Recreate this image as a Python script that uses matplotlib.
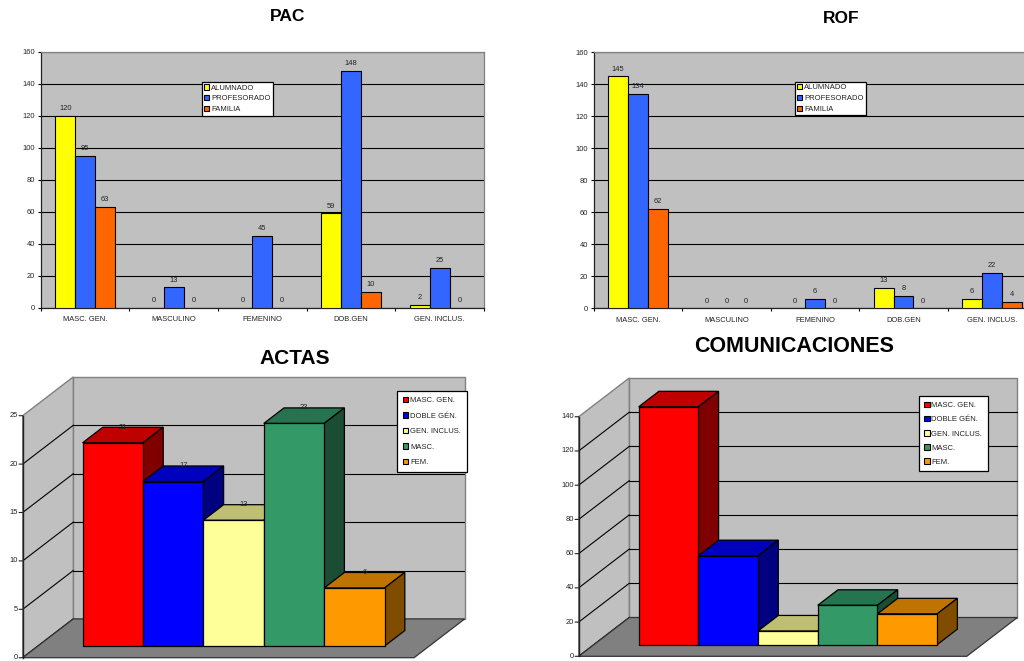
import matplotlib
matplotlib.use("Agg")
import matplotlib.pyplot as plt
from matplotlib.patches import Patch, Polygon

plt.rcParams["font.family"] = ["Liberation Sans", "DejaVu Sans"]

W, H = 1024, 661

# ── Data ─────────────────────────────────────────────────────────────────────
groups = ["MASC. GEN.", "MASCULINO", "FEMENINO", "DOB.GEN", "GEN. INCLUS."]
audience = ["ALUMNADO", "PROFESORADO", "FAMILIA"]

pac_alumnado = [120, 0, 0, 59, 2]
pac_profesorado = [95, 13, 45, 148, 25]
pac_familia = [63, 0, 0, 10, 0]

rof_alumnado = [145, 0, 0, 13, 6]
rof_profesorado = [134, 0, 6, 8, 22]
rof_familia = [62, 0, 0, 0, 4]

forms = ["MASC. GEN.", "DOBLE GÉN.", "GEN. INCLUS.", "MASC.", "FEM."]
actas_values = [21, 17, 13, 23, 6]
comunicaciones_values = [139, 52, 8, 23, 18]

flat_ticks = [0, 20, 40, 60, 80, 100, 120, 140, 160]
actas_ticks = [0, 5, 10, 15, 20, 25]
comunicaciones_ticks = [0, 20, 40, 60, 80, 100, 120, 140]

# ── Colors ───────────────────────────────────────────────────────────────────
C_WALL = "#c0c0c0"
C_FLOOR = "#808080"
C_TEXT = "#222222"
FLAT_COLORS = ["#ffff00", "#3366ff", "#ff6600"]
# front, top, side
BOX_COLORS = [
    ("#ff0000", "#bf0000", "#800000"),
    ("#0000ff", "#0000bf", "#000080"),
    ("#ffff99", "#bfbf73", "#80804d"),
    ("#339966", "#267350", "#1a4d33"),
    ("#ff9900", "#bf7300", "#804d00"),
]
TICK_SIZE = 5.4

fig = plt.figure(figsize=(W / 100, H / 100), dpi=100, facecolor="white")


def rect(left, top, right, bottom):
    return [left / W, 1 - bottom / H, (right - left) / W, (bottom - top) / H]


def title(text, x, y, size):
    fig.text(x / W, 1 - y / H, text, ha="center", va="center",
             fontsize=size, fontweight="bold", color="black")


def legend(ax, handles, labels, x, y, **kw):
    leg = ax.legend(handles, labels, loc="upper left",
                    bbox_to_anchor=(x / W, 1 - y / H),
                    bbox_transform=fig.transFigure, fontsize=5.5,
                    fancybox=False, framealpha=1, edgecolor="black",
                    borderaxespad=0, handlelength=0.7, handleheight=0.7,
                    labelcolor=C_TEXT, **kw)
    leg.get_frame().set_linewidth(0.9)
    leg.set_zorder(20)


# ── Flat clustered bars (PAC, ROF) ───────────────────────────────────────────
def flat_chart(box, series, legend_xy):
    ax = fig.add_axes(rect(*box), facecolor=C_WALL)
    width = 0.2236
    for k, values in enumerate(series):
        for i, val in enumerate(values):
            x = i + 0.5 + (k - 1) * width
            if val > 0:
                ax.bar(x, val, width, color=FLAT_COLORS[k], edgecolor="black",
                       linewidth=0.8, zorder=3)
            ax.annotate(str(val), (x, val), xytext=(0, 2.6),
                        textcoords="offset points", ha="center", va="bottom",
                        fontsize=TICK_SIZE, color=C_TEXT, zorder=4)
    ax.set_xlim(0, len(groups))
    ax.set_ylim(0, 160)
    ax.set_yticks(flat_ticks)
    ax.yaxis.grid(True, color="black", linewidth=0.8, zorder=0)
    ax.set_axisbelow(True)
    ax.set_xticks(range(len(groups) + 1))
    ax.set_xticklabels([])
    ax.set_xticks([i + 0.5 for i in range(len(groups))], groups, minor=True)
    ax.tick_params(axis="x", which="minor", length=0, pad=6,
                   labelsize=TICK_SIZE, labelcolor=C_TEXT)
    ax.tick_params(axis="x", which="major", length=2.5, width=0.8)
    ax.tick_params(axis="y", length=2.5, width=0.8, pad=1.5,
                   labelsize=TICK_SIZE, labelcolor=C_TEXT)
    for side in ["top", "right"]:
        ax.spines[side].set_color(C_FLOOR)
        ax.spines[side].set_linewidth(0.9)
    for side in ["left", "bottom"]:
        ax.spines[side].set_color("#222222")
        ax.spines[side].set_linewidth(0.9)
    handles = [Patch(facecolor=c, edgecolor="black", linewidth=0.8)
               for c in FLAT_COLORS]
    legend(ax, handles, audience, *legend_xy, borderpad=0.3, labelspacing=0.45,
           handletextpad=0.25)


# ── Fake 3D column charts (ACTAS, COMUNICACIONES) ────────────────────────────
def box_chart(box, values, ticks, bar_px, unit_px, floor_units, legend_xy,
              labels, legend_space):
    left, top, right, bottom = box
    ax = fig.add_axes(rect(*box))
    ax.set_xlim(0, (right - left) / bar_px)
    ax.set_ylim(0, (bottom - top) / unit_px)
    ax.axis("off")

    deep_x = 50.6 / bar_px
    deep_y = 38.8 / unit_px

    def proj(u, v, d):
        return (u + d * deep_x, v + d * deep_y)

    def poly(points, color, edge, lw, z):
        ax.add_patch(Polygon(points, closed=True, facecolor=color, edgecolor=edge,
                             linewidth=lw, zorder=z, clip_on=False))

    vmax = ticks[-1]
    # walls and floor
    poly([proj(0, 0, 1), proj(floor_units, 0, 1), proj(floor_units, vmax, 1),
          proj(0, vmax, 1)], C_WALL, C_FLOOR, 1.0, 1)
    poly([proj(0, 0, 0), proj(0, 0, 1), proj(0, vmax, 1), proj(0, vmax, 0)],
         C_WALL, C_FLOOR, 1.0, 1)
    for t in ticks[1:-1]:
        ax.plot(*zip(proj(0, t, 1), proj(floor_units, t, 1)), color="black",
                linewidth=0.8, zorder=2)
    for t in ticks[:-1]:
        ax.plot(*zip(proj(0, t, 0), proj(0, t, 1)), color="black",
                linewidth=0.8, zorder=2)
    poly([proj(0, 0, 0), proj(floor_units, 0, 0), proj(floor_units, 0, 1),
          proj(0, 0, 1)], C_FLOOR, "#333333", 0.9, 3)

    # value axis on the front left edge
    ax.plot(*zip(proj(0, 0, 0), proj(0, vmax, 0)), color="#222222",
            linewidth=1.0, zorder=4, clip_on=False)
    for t in ticks:
        ax.annotate("", (0, t), xytext=(-2.6, 0), textcoords="offset points",
                    annotation_clip=False,
                    arrowprops=dict(arrowstyle="-", color="#222222",
                                    linewidth=0.8, shrinkA=0, shrinkB=0))
        ax.annotate(str(t), (0, t), xytext=(-3.2, 0), textcoords="offset points",
                    ha="right", va="center", fontsize=TICK_SIZE, color=C_TEXT,
                    annotation_clip=False)

    # columns, left to right so each front covers the side before it
    pad = (floor_units - len(values)) / 2
    d0, d1 = 0.3, 0.7
    for i, val in enumerate(values):
        u0, u1 = pad + i, pad + i + 1
        front, top_c, side = BOX_COLORS[i]
        z = 5 + i
        poly([proj(u0, val, d0), proj(u1, val, d0), proj(u1, val, d1),
              proj(u0, val, d1)], top_c, "black", 0.9, z)
        poly([proj(u1, 0, d0), proj(u1, 0, d1), proj(u1, val, d1),
              proj(u1, val, d0)], side, "black", 0.9, z)
        poly([proj(u0, 0, d0), proj(u1, 0, d0), proj(u1, val, d0),
              proj(u0, val, d0)], front, "black", 0.9, z)
        if labels:
            x, _ = proj((u0 + u1) / 2, val, 0.5)
            _, y = proj(u0, val, d1)
            ax.text(x, y, str(val), ha="center", va="center",
                    fontsize=TICK_SIZE, color=C_TEXT, zorder=15)

    handles = [Patch(facecolor=c[0], edgecolor="black", linewidth=0.8)
               for c in BOX_COLORS]
    legend(ax, handles, forms, *legend_xy, borderpad=0.75, labelspacing=legend_space,
           handletextpad=0.25)


# ── Charts ───────────────────────────────────────────────────────────────────
flat_chart((40.7, 51.7, 484, 308),
           [pac_alumnado, pac_profesorado, pac_familia], (201.7, 82))
flat_chart((593.7, 52.3, 1036.2, 308.3),
           [rof_alumnado, rof_profesorado, rof_familia], (794.7, 81.7))
box_chart((22.7, 376.7, 465, 657.7), actas_values, actas_ticks,
          60.4, 9.68, 6.48, (397.3, 391), True, 1.07)
box_chart((578.7, 377.7, 1017.7, 656.3), comunicaciones_values, comunicaciones_ticks,
          59.7, 1.711, 6.5, (918.5, 396.3), False, 0.88)

title("PAC", 288, 16.5, 12.5)
title("ROF", 841, 18.5, 12.5)
title("ACTAS", 295, 359, 15)
title("COMUNICACIONES", 793.7, 347, 15.5)

plt.savefig("out.png", dpi=100, facecolor="white")
